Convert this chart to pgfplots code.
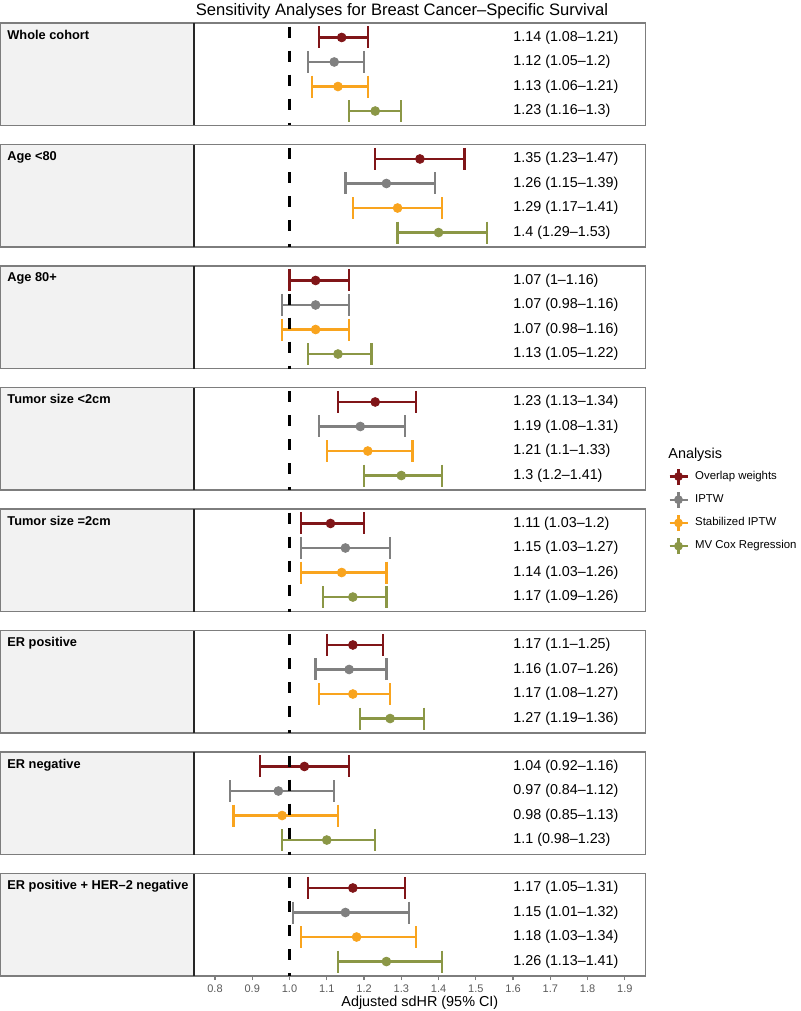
\documentclass[border=0pt]{standalone}
\usepackage{pgfplots}
\pgfplotsset{compat=1.18}
\usepackage{fontspec}
\setmainfont{Liberation Sans}

\definecolor{cRed}{RGB}{128,21,24}
\definecolor{cGray}{RGB}{128,128,128}
\definecolor{cOrange}{RGB}{249,164,30}
\definecolor{cOlive}{RGB}{139,151,70}
\definecolor{stripfill}{RGB}{242,242,242}
\definecolor{frame}{RGB}{125,125,125}

% one row: colour, row, estimate, lower, upper
\newcommand\ci[5]{%
  \addplot[#1, line width=1.15pt, mark=|, mark size=5.5pt, mark options={solid, line width=1.15pt}] coordinates {(#4,#2) (#5,#2)};
  \addplot[#1, only marks, mark=*, mark size=2.2pt] coordinates {(#3,#2)};
  \node[anchor=west, inner sep=0pt, font=\fontsize{7.15}{8}\selectfont] at (axis cs:1.6,#2) {#3 (#4--#5)};
}

\pgfplotsset{
  panel/.style={
    scale only axis, width=225.85pt, height=51.25pt,
    anchor=north west, clip=false,
    xmin=0.7436, xmax=1.956, ymin=0.41, ymax=4.59, y dir=reverse,
    ytick=\empty, xtick={0.8,0.9,...,1.9}, xticklabels={},
    major tick length=0pt,
    axis line style={frame, line width=0.6pt},
  },
  strip/.style={
    execute at begin axis={
      \fill[stripfill] (rel axis cs:-0.4295,0) rectangle (rel axis cs:0,1);
      \draw[frame, line width=0.6pt] (rel axis cs:-0.4295,0) rectangle (rel axis cs:0,1);
      \node[anchor=north west, inner sep=0pt, font=\fontsize{6.4}{7}\selectfont\bfseries]
        at ([xshift=3.5pt,yshift=-3.3pt]rel axis cs:-0.4295,1) {#1};
    },
    execute at end axis={
      \draw[black!85, line width=0.7pt] (rel axis cs:0,0) -- (rel axis cs:0,1);
      \draw[black, line width=1.5pt, dash pattern=on 5.5pt off 6.5pt, dash phase=10.15pt]
        (axis cs:1,0.41) -- (axis cs:1,4.59);
    },
  },
}

\begin{document}
\begin{tikzpicture}
\path[use as bounding box] (0,0) rectangle (400pt,-505.5pt);
\node[anchor=base, font=\fontsize{8.3}{9}\selectfont] at (201pt,-7.9pt)
  {Sensitivity Analyses for Breast Cancer--Specific Survival};

\begin{axis}[panel, strip={Whole cohort}, at={(97pt,-11.5pt)}]
\ci{cRed}{1}{1.14}{1.08}{1.21}
\ci{cGray}{2}{1.12}{1.05}{1.2}
\ci{cOrange}{3}{1.13}{1.06}{1.21}
\ci{cOlive}{4}{1.23}{1.16}{1.3}
\end{axis}

\begin{axis}[panel, strip={Age <80}, at={(97pt,-72.25pt)}]
\ci{cRed}{1}{1.35}{1.23}{1.47}
\ci{cGray}{2}{1.26}{1.15}{1.39}
\ci{cOrange}{3}{1.29}{1.17}{1.41}
\ci{cOlive}{4}{1.4}{1.29}{1.53}
\end{axis}

\begin{axis}[panel, strip={Age 80+}, at={(97pt,-133pt)}]
\ci{cRed}{1}{1.07}{1}{1.16}
\ci{cGray}{2}{1.07}{0.98}{1.16}
\ci{cOrange}{3}{1.07}{0.98}{1.16}
\ci{cOlive}{4}{1.13}{1.05}{1.22}
\end{axis}

\begin{axis}[panel, strip={Tumor size <2cm}, at={(97pt,-193.75pt)}]
\ci{cRed}{1}{1.23}{1.13}{1.34}
\ci{cGray}{2}{1.19}{1.08}{1.31}
\ci{cOrange}{3}{1.21}{1.1}{1.33}
\ci{cOlive}{4}{1.3}{1.2}{1.41}
\end{axis}

\begin{axis}[panel, strip={Tumor size =2cm}, at={(97pt,-254.5pt)}]
\ci{cRed}{1}{1.11}{1.03}{1.2}
\ci{cGray}{2}{1.15}{1.03}{1.27}
\ci{cOrange}{3}{1.14}{1.03}{1.26}
\ci{cOlive}{4}{1.17}{1.09}{1.26}
\end{axis}

\begin{axis}[panel, strip={ER positive}, at={(97pt,-315.25pt)}]
\ci{cRed}{1}{1.17}{1.1}{1.25}
\ci{cGray}{2}{1.16}{1.07}{1.26}
\ci{cOrange}{3}{1.17}{1.08}{1.27}
\ci{cOlive}{4}{1.27}{1.19}{1.36}
\end{axis}

\begin{axis}[panel, strip={ER negative}, at={(97pt,-376pt)}]
\ci{cRed}{1}{1.04}{0.92}{1.16}
\ci{cGray}{2}{0.97}{0.84}{1.12}
\ci{cOrange}{3}{0.98}{0.85}{1.13}
\ci{cOlive}{4}{1.1}{0.98}{1.23}
\end{axis}

\begin{axis}[panel, strip={ER positive + HER--2 negative}, at={(97pt,-436.75pt)},
  xticklabels={0.8,0.9,1.0,1.1,1.2,1.3,1.4,1.5,1.6,1.7,1.8,1.9},
  major tick length=2pt, tick align=outside, x tick style={frame, line width=0.6pt},
  xtick pos=bottom,
  x tick label style={font=\fontsize{5.5}{6}\selectfont, text=black!65, yshift=1pt},
  xlabel={Adjusted sdHR (95\% CI)},
  xlabel style={font=\fontsize{7.2}{8}\selectfont, yshift=5.3pt},
]
\ci{cRed}{1}{1.17}{1.05}{1.31}
\ci{cGray}{2}{1.15}{1.01}{1.32}
\ci{cOrange}{3}{1.18}{1.03}{1.34}
\ci{cOlive}{4}{1.26}{1.13}{1.41}
\end{axis}

% legend
\begin{axis}[hide axis, scale only axis, width=10pt, height=10pt,
  at={(334pt,-233.5pt)}, anchor=north west,
  xmin=0, xmax=1, ymin=0, ymax=1,
  legend style={at={(0,1)}, anchor=north west, draw=none, fill=none,
    font=\fontsize{5.7}{6.5}\selectfont, row sep=2.5pt, column sep=2.5pt, inner sep=0pt,
    nodes={inner sep=0.8pt}},
  legend cell align=left,
  legend image code/.code={
    \draw[line width=1.1pt] (0pt,0pt) -- (9pt,0pt);
    \draw[line width=1.1pt] (4.5pt,-4pt) -- (4.5pt,4pt);
    \fill (4.5pt,0pt) circle (2pt);
  },
]
\addlegendimage{cRed}\addlegendentry{Overlap weights}
\addlegendimage{cGray}\addlegendentry{IPTW}
\addlegendimage{cOrange}\addlegendentry{Stabilized IPTW}
\addlegendimage{cOlive}\addlegendentry{MV Cox Regression}
\end{axis}
\node[anchor=base west, inner sep=0pt, font=\fontsize{7.2}{8}\selectfont] at (334pt,-229pt) {Analysis};
\end{tikzpicture}
\end{document}
